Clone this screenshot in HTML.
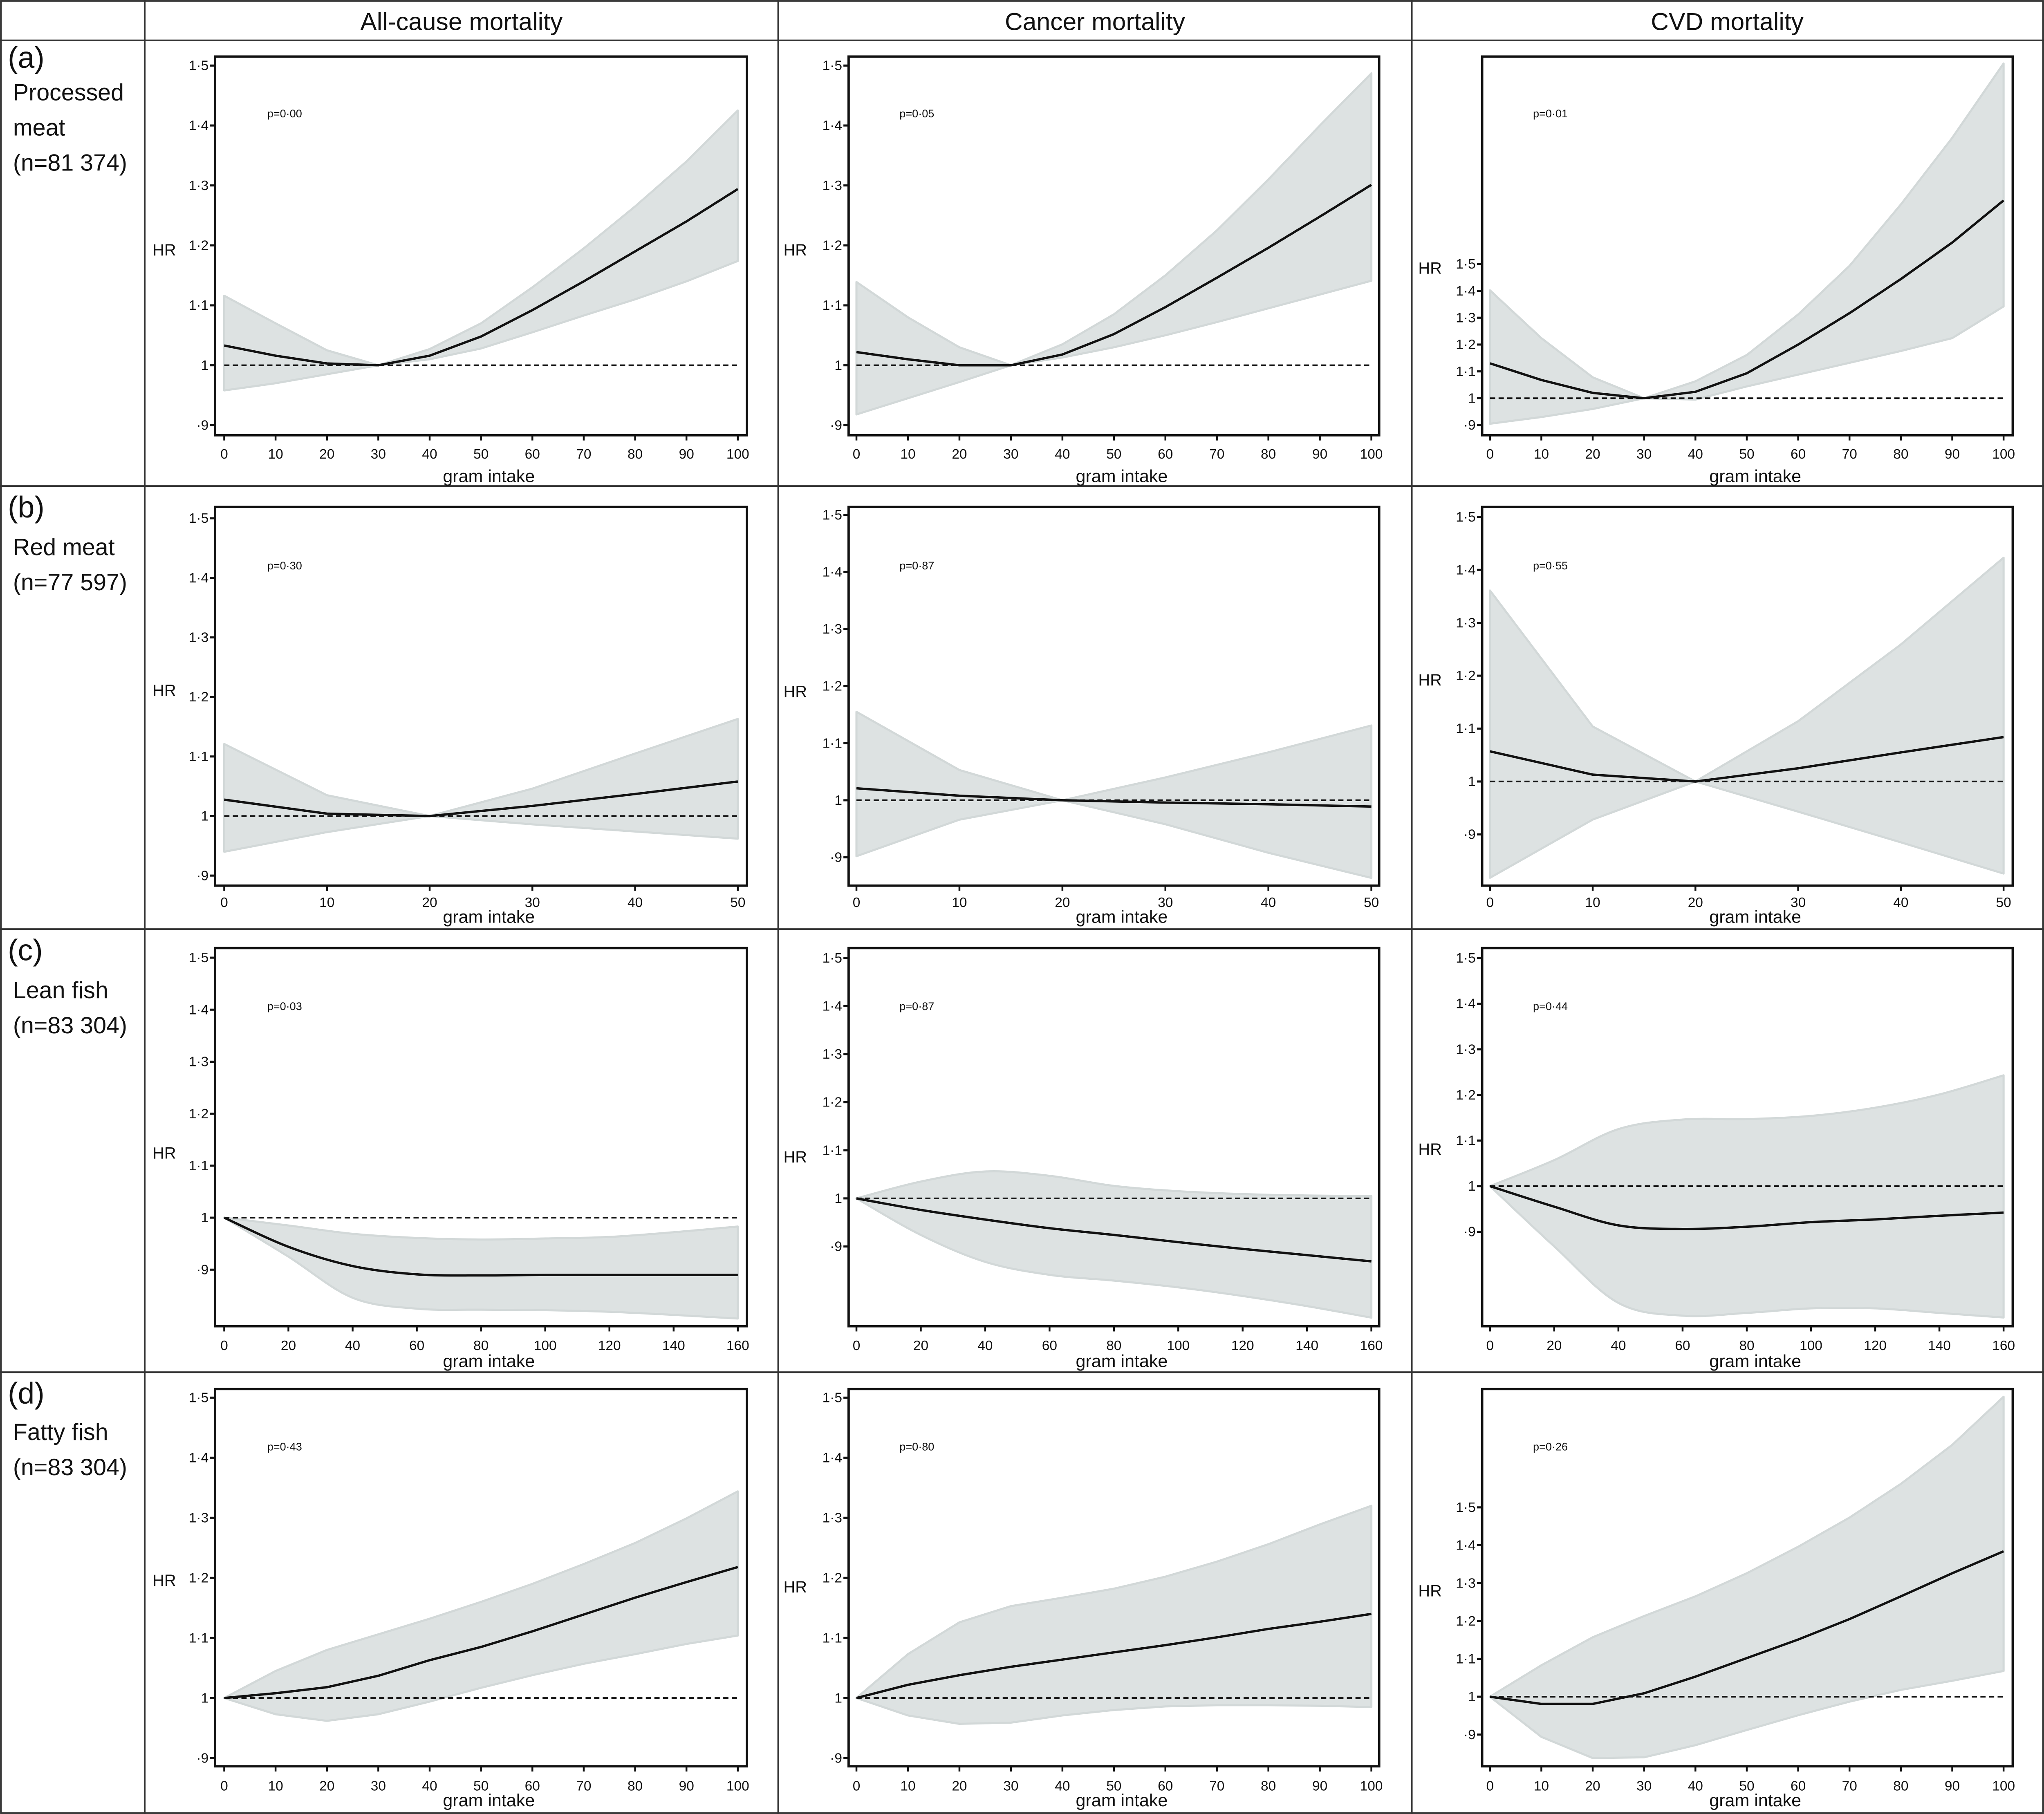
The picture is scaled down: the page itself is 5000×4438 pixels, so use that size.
<!DOCTYPE html>
<html><head><meta charset="utf-8">
<style>
html,body{margin:0;padding:0;background:#fff;}
svg{display:block;}
text{font-family:"Liberation Sans",sans-serif;fill:#111;}
</style></head>
<body>
<svg id="fig" xmlns="http://www.w3.org/2000/svg" width="5000" height="4438" viewBox="0 0 1568 1392" preserveAspectRatio="none">
<g stroke="#333" stroke-width="1.3" fill="none">
<rect x="0.7" y="0.7" width="1566.6" height="1390.6"/>
<line x1="111" y1="0" x2="111" y2="1392"/>
<line x1="597" y1="0" x2="597" y2="1392"/>
<line x1="1083" y1="0" x2="1083" y2="1392"/>
<line x1="0" y1="31" x2="1568" y2="31"/>
<line x1="0" y1="373" x2="1568" y2="373"/>
<line x1="0" y1="713" x2="1568" y2="713"/>
<line x1="0" y1="1053" x2="1568" y2="1053"/>
</g>
<text x="354" y="23" font-size="19" text-anchor="middle">All-cause mortality</text>
<text x="840" y="23" font-size="19" text-anchor="middle">Cancer mortality</text>
<text x="1325" y="23" font-size="19" text-anchor="middle">CVD mortality</text>
<g font-size="18">
<text x="6" y="52" font-size="23">(a)</text><text x="10" y="77">Processed</text><text x="10" y="104">meat</text><text x="10" y="131">(n=81 374)</text></g>
<g font-size="18">
<text x="6" y="397" font-size="23">(b)</text><text x="10" y="426">Red meat</text><text x="10" y="453">(n=77 597)</text></g>
<g font-size="18">
<text x="6" y="737" font-size="23">(c)</text><text x="10" y="766">Lean fish</text><text x="10" y="793">(n=83 304)</text></g>
<g font-size="18">
<text x="6" y="1077" font-size="23">(d)</text><text x="10" y="1105">Fatty fish</text><text x="10" y="1132">(n=83 304)</text></g>
<g id="plots"></g>
</svg>
<script>
// ---- data arrays ----
const xA = [0,10,20,30,40,50,60,70,80,90,100];
const xB = [0,10,20,30,40,50];
const xC = [0,20,40,60,80,100,120,140,160];
const xTicksA = [0,10,20,30,40,50,60,70,80,90,100];
const xTicksB = [0,10,20,30,40,50];
const xTicksC = [0,20,40,60,80,100,120,140,160];
const yTicks = [0.9,1,1.1,1.2,1.3,1.4,1.5];
const yTickLabels = ["·9","1","1·1","1·2","1·3","1·4","1·5"];
const pValues = ["p=0·00","p=0·05","p=0·01","p=0·30","p=0·87","p=0·55","p=0·03","p=0·87","p=0·44","p=0·43","p=0·80","p=0·26"];

const a1Mean=[1.033,1.016,1.003,1.0,1.016,1.048,1.092,1.14,1.19,1.24,1.294];
const a1Low =[0.958,0.97,0.985,1.0,1.01,1.028,1.055,1.083,1.11,1.14,1.174];
const a1Up  =[1.116,1.07,1.025,1.0,1.027,1.07,1.13,1.195,1.265,1.34,1.425];
const a2Mean=[1.022,1.01,1.0,1.0,1.018,1.052,1.097,1.146,1.196,1.248,1.301];
const a2Low =[0.918,0.945,0.972,1.0,1.013,1.03,1.05,1.072,1.095,1.118,1.141];
const a2Up  =[1.139,1.08,1.03,1.0,1.035,1.085,1.15,1.225,1.31,1.4,1.487];
const a3Mean=[1.13,1.068,1.02,1.0,1.024,1.093,1.2,1.317,1.444,1.58,1.737];
const a3Low =[0.905,0.93,0.96,1.0,0.995,1.044,1.088,1.132,1.176,1.224,1.342];
const a3Up  =[1.402,1.224,1.078,1.0,1.063,1.161,1.312,1.493,1.722,1.97,2.247];

const b1Mean=[1.0275,1.004,1.0,1.017,1.037,1.058];
const b1Low =[0.94,0.973,1.0,0.986,0.974,0.962];
const b1Up  =[1.121,1.035,1.0,1.046,1.105,1.163];
const b2Mean=[1.021,1.008,1.0,0.996,0.993,0.989];
const b2Low =[0.902,0.966,1.0,0.958,0.908,0.864];
const b2Up  =[1.155,1.053,1.0,1.04,1.084,1.131];
const b3Mean=[1.057,1.013,1.0,1.025,1.055,1.084];
const b3Low =[0.818,0.928,1.0,0.943,0.885,0.826];
const b3Up  =[1.361,1.104,1.0,1.114,1.259,1.423];

const c1Mean=[1.0,0.944,0.907,0.891,0.889,0.89,0.89,0.89,0.89];
const c1Low =[1.0,0.925,0.846,0.825,0.823,0.822,0.819,0.813,0.806];
const c1Up  =[1.0,0.985,0.969,0.961,0.958,0.96,0.963,0.972,0.983];
const c2Mean=[1.0,0.976,0.956,0.938,0.924,0.909,0.895,0.882,0.869];
const c2Low =[1.0,0.924,0.868,0.841,0.829,0.815,0.797,0.776,0.752];
const c2Up  =[1.0,1.035,1.056,1.047,1.026,1.015,1.009,1.006,1.005];
const c3Mean=[1.0,0.955,0.914,0.906,0.911,0.921,0.927,0.935,0.942];
const c3Low =[1.0,0.868,0.744,0.716,0.722,0.732,0.732,0.722,0.712];
const c3Up  =[1.0,1.057,1.125,1.146,1.147,1.154,1.172,1.201,1.243];

const d1Mean=[1.0,1.008,1.018,1.037,1.063,1.085,1.111,1.139,1.167,1.193,1.218];
const d1Low =[1.0,0.973,0.962,0.973,0.994,1.017,1.038,1.057,1.073,1.09,1.104];
const d1Up  =[1.0,1.045,1.08,1.106,1.132,1.16,1.19,1.223,1.258,1.299,1.344];
const d2Mean=[1.0,1.022,1.038,1.052,1.064,1.076,1.088,1.101,1.115,1.127,1.14];
const d2Low =[1.0,0.971,0.957,0.959,0.971,0.98,0.986,0.988,0.988,0.987,0.985];
const d2Up  =[1.0,1.073,1.126,1.153,1.167,1.182,1.202,1.227,1.256,1.289,1.32];
const d3Mean=[1.0,0.981,0.981,1.009,1.053,1.102,1.151,1.205,1.265,1.326,1.384];
const d3Low =[1.0,0.894,0.838,0.84,0.872,0.912,0.951,0.987,1.018,1.042,1.068];
const d3Up  =[1.0,1.083,1.157,1.213,1.265,1.326,1.396,1.473,1.562,1.665,1.792];

// ---- layout (not data) ----
const cols=[{l:165,r:573,x0:172,x1:566,hr:126,p:205},{l:651,r:1058,x0:657,x1:1052,hr:610,p:690},{l:1137,r:1544,x0:1143,x1:1537,hr:1097,p:1176}];
const rows=[{t:43.4,b:334,tick:350,lab:370,p:90,name:'processed-meat',smooth:false},{t:389,b:679.6,tick:694,lab:708,p:437,name:'red-meat',smooth:false},{t:727.5,b:1017.7,tick:1034,lab:1049,p:775,name:'lean-fish',smooth:true},{t:1065.9,b:1355.4,tick:1372,lab:1386,p:1113,name:'fatty-fish',smooth:false}];
const panels=[
 {r:0,c:0,one:280.3,ppt:46,hry:191,x:xA,xt:xTicksA,m:a1Mean,lo:a1Low,up:a1Up},
 {r:0,c:1,one:280.3,ppt:46,hry:191,x:xA,xt:xTicksA,m:a2Mean,lo:a2Low,up:a2Up},
 {r:0,c:2,one:305.6,ppt:20.6,hry:205,x:xA,xt:xTicksA,m:a3Mean,lo:a3Low,up:a3Up},
 {r:1,c:0,one:626.2,ppt:45.7,hry:529,x:xB,xt:xTicksB,m:b1Mean,lo:b1Low,up:b1Up},
 {r:1,c:1,one:614.1,ppt:43.8,hry:530,x:xB,xt:xTicksB,m:b2Mean,lo:b2Low,up:b2Up},
 {r:1,c:2,one:599.7,ppt:40.6,hry:521,x:xB,xt:xTicksB,m:b3Mean,lo:b3Low,up:b3Up},
 {r:2,c:0,one:934.4,ppt:39.9,hry:884,x:xC,xt:xTicksC,m:c1Mean,lo:c1Low,up:c1Up},
 {r:2,c:1,one:919.6,ppt:36.9,hry:887,x:xC,xt:xTicksC,m:c2Mean,lo:c2Low,up:c2Up},
 {r:2,c:2,one:910.2,ppt:35.0,hry:881,x:xC,xt:xTicksC,m:c3Mean,lo:c3Low,up:c3Up},
 {r:3,c:0,one:1303,ppt:46.1,hry:1212,x:xA,xt:xTicksA,m:d1Mean,lo:d1Low,up:d1Up},
 {r:3,c:1,one:1303,ppt:46.1,hry:1217,x:xA,xt:xTicksA,m:d2Mean,lo:d2Low,up:d2Up},
 {r:3,c:2,one:1302,ppt:29.06,hry:1220,x:xA,xt:xTicksA,m:d3Mean,lo:d3Low,up:d3Up}
];
const colNames=['all-cause','cancer','cvd'];
const NS='http://www.w3.org/2000/svg';
const root=document.getElementById('plots');
function mk(tag,attrs,parent){const e=document.createElementNS(NS,tag);for(const k in attrs)e.setAttribute(k,attrs[k]);parent.appendChild(e);return e;}
function pathOf(p,smooth,start){
  let d=(start?'M':'L')+p[0][0].toFixed(2)+','+p[0][1].toFixed(2);
  for(let i=1;i<p.length;i++){
    if(!smooth){d+=' L'+p[i][0].toFixed(2)+','+p[i][1].toFixed(2);continue;}
    const p0=p[Math.max(0,i-2)],p1=p[i-1],p2=p[i],p3=p[Math.min(p.length-1,i+1)];
    const c1=[p1[0]+(p2[0]-p0[0])/6,p1[1]+(p2[1]-p0[1])/6];
    const c2=[p2[0]-(p3[0]-p1[0])/6,p2[1]-(p3[1]-p1[1])/6];
    d+=' C'+c1[0].toFixed(2)+','+c1[1].toFixed(2)+' '+c2[0].toFixed(2)+','+c2[1].toFixed(2)+' '+p2[0].toFixed(2)+','+p2[1].toFixed(2);
  }
  return d;
}

panels.forEach((P,i)=>{
  const C=cols[P.c],R=rows[P.r];
  const g=mk('g',{},root);
  
  
  const xmax=P.x[P.x.length-1];
  const sx=v=>C.x0+(v/xmax)*(C.x1-C.x0);
  const sy=v=>P.one-(v-1)*10*P.ppt;
  const upP=P.x.map((v,k)=>[sx(v),sy(P.up[k])]);
  const loP=P.x.map((v,k)=>[sx(v),sy(P.lo[k])]).reverse();
  const bd=pathOf(upP,R.smooth,true)+' '+pathOf(loP,R.smooth,false)+' Z';
  const band=mk('path',{d:bd,fill:'#dde2e2',stroke:'#d2d8d8','stroke-width':1.6,'stroke-linejoin':'round'},g);
  
  
  const ref=mk('line',{x1:C.x0,x2:C.x1,y1:sy(1),y2:sy(1),stroke:'#111','stroke-width':1.3,'stroke-dasharray':'4 2.6'},g);
  
  
  const mP=P.x.map((v,k)=>[sx(v),sy(P.m[k])]);
  const ml=mk('path',{d:pathOf(mP,R.smooth,true),fill:'none',stroke:'#111','stroke-width':1.8,'stroke-linejoin':'round'},g);
  
  
  const box=mk('rect',{x:C.l,y:R.t,width:C.r-C.l,height:R.b-R.t,fill:'none',stroke:'#111','stroke-width':1.8},g);
  
  
  const ya=mk('g',{},g);
  
  
  yTicks.forEach((v,k)=>{
    const y=sy(v);
    mk('line',{x1:C.l-4,x2:C.l,y1:y,y2:y,stroke:'#111','stroke-width':1.6},ya);
    const t=mk('text',{x:C.l-5,y:y+3.5,'font-size':10.5,'text-anchor':'end'},ya);
    t.textContent=yTickLabels[k];
  });
  const xa=mk('g',{},g);
  
  
  P.xt.forEach(v=>{
    const x=sx(v);
    mk('line',{x1:x,x2:x,y1:R.b,y2:R.b+4,stroke:'#111','stroke-width':1.4},xa);
    const t=mk('text',{x:x,y:R.tick+2,'font-size':10.5,'text-anchor':'middle'},xa);
    t.textContent=String(v);
  });
  const xl=mk('text',{x:(C.l+C.r)/2+6,y:R.lab,'font-size':13.5,'text-anchor':'middle'},g);
  xl.textContent='gram intake';
  
  
  const hr=mk('text',{x:C.hr-9,y:P.hry+5,'font-size':12.5},g);
  hr.textContent='HR';
  
  
  const pt=mk('text',{x:C.p,y:R.p,'font-size':8.5},g);
  pt.textContent=pValues[i];
  
  
});
</script>
</body></html>
